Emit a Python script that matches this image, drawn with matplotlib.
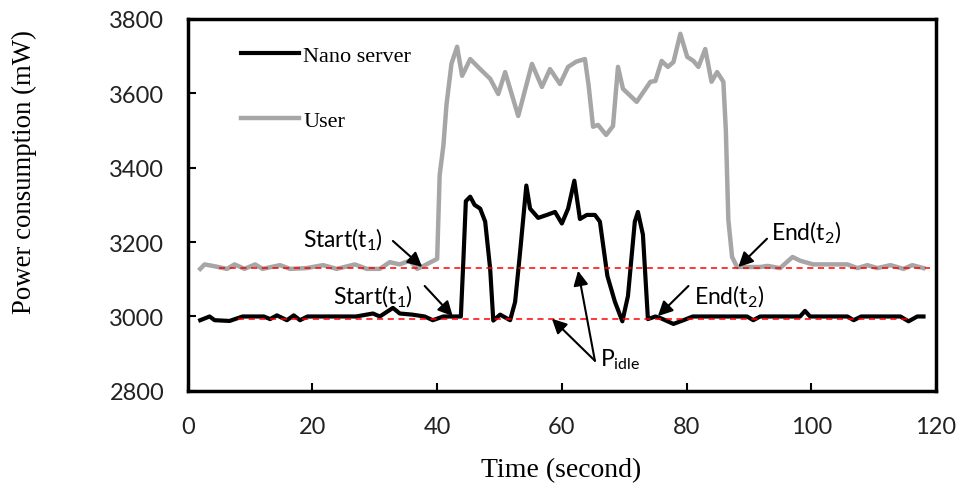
import numpy as np
import matplotlib.pyplot as plt

# 数据
t_user = [2, 2.7, 4, 6.3, 7.5, 9.1, 10.8, 12, 14.8, 16.4, 19, 21.7, 23.9, 26.8, 28.7,
          30.8, 32.4, 34, 35.6, 36.8, 37.7, 40.0, 40.4, 41.0, 41.5, 42.3, 43.2, 44, 45.3,
          46.9, 48.5, 49.8, 50.9, 53, 55.2, 56.8, 58.1, 59.7, 61, 62.3, 63.7, 64.3, 65,
          65.8, 67.1, 68.2, 69, 69.8, 72, 74.2, 75, 76, 77, 77.9, 79, 80.1, 81.1, 81.9,
          83, 84, 84.9, 85.9, 86.3, 86.7, 87.3, 88.1, 90, 91.8, 93, 95, 97, 98.2, 100.3,
          105.8, 107.4, 109, 110.6, 112.7, 114.8, 116.2, 118]
p_user = [3128, 3140, 3136, 3128, 3140, 3128, 3140, 3128, 3138, 3128, 3130, 3138, 3128, 3140, 3128,
          3128, 3146, 3140, 3150, 3128, 3135, 3155, 3380, 3460, 3570, 3680, 3725, 3647, 3692,
          3665, 3639, 3598, 3657, 3539, 3679, 3617, 3665, 3625, 3671, 3685, 3692, 3620, 3510,
          3515, 3488, 3512, 3671, 3612, 3577, 3631, 3633, 3687, 3671, 3684, 3760, 3698, 3687, 3671,
          3719, 3631, 3657, 3631, 3500, 3260, 3160, 3133, 3133, 3133, 3136, 3130, 3160, 3150, 3140,
          3140, 3130, 3138, 3130, 3138, 3128, 3138, 3130]

t_nano = [2, 3.5, 4.3, 6.7, 8.8, 10.5, 12.2, 13.2, 14.3, 15.9, 17, 18, 19.2, 22, 25, 27,
          29.7, 30.8, 32.9, 34, 36, 38, 39.3, 41, 43.8, 44.2, 44.6, 45.3, 46, 46.9, 47.7,
          48.5, 49, 50.1, 51.7, 52.5, 53.3, 54.3, 54.9, 56.2, 57.6, 58.9, 60, 61, 62, 62.9,
          64, 65.3, 66.1, 67.3, 68.5, 69.7, 70.6, 71.7, 72.2, 73, 73.8, 75, 75.9, 77.9, 79.5,
          81, 84, 87, 89.7, 90.7, 91.8, 95, 98.2, 99, 99.8, 103, 105.8, 106.8, 108, 111,
          114.3, 115.6, 117, 118]
p_nano = [2990, 3000, 2990, 2988, 3000, 3000, 3000, 2993, 3003, 2990, 3003, 2990, 3000, 3000, 3000, 3000,
          3008, 3000, 3023, 3008, 3005, 3000, 2990, 3000, 3000, 3150, 3310, 3322, 3300, 3290, 3255,
          3128, 2989, 3005, 2990, 3039, 3173, 3352, 3290, 3265, 3273, 3281, 3250, 3290, 3365, 3262,
          3273, 3273, 3255, 3109, 3040, 2987, 3055, 3255, 3281, 3220, 2993, 3000, 2995, 2980, 2990,
          3000, 3000, 3000, 3000, 2990, 3000, 3000, 3000, 3015, 3000, 3000, 3000, 2990, 3000, 3000,
          3000, 2987, 3000, 3000]

p_idle_user = 3130
p_idle_nano = 2993

plt.rcParams['mathtext.fontset'] = 'custom'
plt.rcParams['mathtext.rm'] = 'Lato'
plt.rcParams['mathtext.it'] = 'Lato'

SANS = 'Lato'
SERIF = 'Liberation Serif'

fig = plt.figure(figsize=(9.58, 4.85), dpi=100)
ax = fig.add_axes([0.196, 0.192, 0.781, 0.767])

ax.plot(t_nano, p_nano, color='black', lw=3, label='Nano server', zorder=4,
        solid_joinstyle='round')
ax.plot(t_user, p_user, color='#A6A6A6', lw=3.2, label='User', zorder=3,
        solid_joinstyle='round')

# 空闲功耗虚线
ax.plot([5, 119], [p_idle_user] * 2, color='red', lw=1.1, ls=(0, (4, 3)), zorder=5)
ax.plot([8, 116], [p_idle_nano] * 2, color='red', lw=1.1, ls=(0, (4, 3)), zorder=5)

arrow = dict(arrowstyle='-|>', color='black', lw=1.5, mutation_scale=22, shrinkA=0, shrinkB=0)

def note(txt, pos, tail, head, ha='center'):
    ax.text(pos[0], pos[1], txt, ha=ha, va='center', fontsize=16.5, family=SANS)
    ax.annotate('', xy=head, xytext=tail, arrowprops=arrow, zorder=6)

note('Start(t$_1$)', (24.9, 3208), (32.9, 3203), (37.6, 3133))
note('Start(t$_1$)', (29.7, 3055), (38.0, 3082), (42.5, 3001))
note('End(t$_2$)', (99.2, 3227), (92.9, 3209), (88.3, 3133))
note('End(t$_2$)', (86.8, 3055), (80.3, 3082), (75.4, 3001))

ax.text(66.1, 2886, 'P$_{\\mathrm{idle}}$', ha='left', va='center', fontsize=16.5, family=SANS)
ax.annotate('', xy=(58.4, 2994), xytext=(65.3, 2881), arrowprops=arrow, zorder=6)
ax.annotate('', xy=(62.6, 3123), xytext=(65.3, 2881), arrowprops=arrow, zorder=6)

ax.set_xlim(0, 120)
ax.set_ylim(2800, 3800)
ax.set_xticks(np.arange(0, 121, 20))
ax.set_yticks(np.arange(2800, 3801, 200))

for s in ax.spines.values():
    s.set_linewidth(2.5)
ax.tick_params(direction='in', length=6, width=1.5, labelsize=17)
ax.tick_params(axis='y', pad=17)
ax.tick_params(axis='x', pad=18)
for lab in ax.get_xticklabels() + ax.get_yticklabels():
    lab.set_family(SANS)
    lab.set_color('#222222')

ax.set_xlabel('Time (second)', family=SERIF, fontsize=20)
ax.set_ylabel('Power consumption (mW)', family=SERIF, fontsize=19.3)
ax.xaxis.set_label_coords(0.499, -0.177)
ax.yaxis.set_label_coords(-0.201, 0.59)

ax.legend(loc='upper left', bbox_to_anchor=(0.071, 0.929), frameon=False,
          prop=dict(family=SERIF, size=16), handlelength=2.6, handletextpad=0.2,
          labelspacing=2.0, borderpad=0, borderaxespad=0)

fig.savefig('out.png', dpi=100)
